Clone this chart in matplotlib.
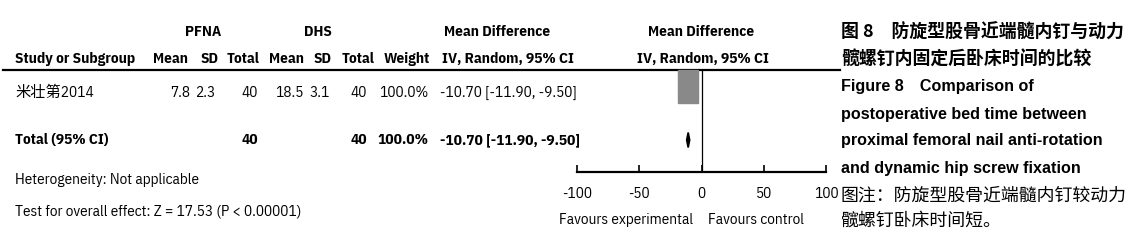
import matplotlib
matplotlib.use("Agg")
import matplotlib.pyplot as plt
from matplotlib import font_manager
from matplotlib.patches import Rectangle, Polygon


def pick(names, alt):
    for name in names:
        try:
            font_manager.findfont(name, fallback_to_default=False)
            return name
        except Exception:
            pass
    return alt


NARROW = pick(["Liberation Sans Narrow", "IBM Plex Sans Condensed", "Archivo Narrow"], "Liberation Sans")
LAT = [NARROW, "Noto Sans CJK SC"]
CJK = ["Noto Sans CJK SC", "DejaVu Sans"]
EN = ["Liberation Sans", "DejaVu Sans"]

# data
group_names = ["PFNA", "DHS"]
study_name = "米壮第2014"
pfna = [7.8, 2.3, 40]
dhs = [18.5, 3.1, 40]
weight = "100.0%"
md = -10.70
ci = (-11.90, -9.50)
total_n = [40, 40]
xticks = [-100, -50, 0, 50, 100]
heterogeneity = "Heterogeneity: Not applicable"
overall = "Test for overall effect: Z = 17.53 (P < 0.00001)"
fav_left = "Favours experimental"
fav_right = "Favours control"
caption_bold = ["图 8\u3000防旋型股骨近端髓内钉与动力", "髋螺钉内固定后卧床时间的比较"]
caption_en = ["Figure 8\u2003Comparison of", "postoperative bed time between",
              "proximal femoral nail anti-rotation", "and dynamic hip screw fixation"]
caption_note = ["图注：防旋型股骨近端髓内钉较动力", "髋螺钉卧床时间短。"]

W, H = 1140, 244
fig = plt.figure(figsize=(W / 100, H / 100), dpi=100)
ax = fig.add_axes([0, 0, 1, 1])
ax.set_xlim(0, W)
ax.set_ylim(H, 0)
ax.axis("off")

fs = 11.0
def t(x, y, s, ha="left", bold=False, **kw):
    ax.text(x, y, s, ha=ha, va="center", fontsize=kw.pop("size", fs),
            family=kw.pop("family", LAT), fontweight="bold" if bold else "normal", **kw)

# headers
t(203, 32, group_names[0], "center", True)
t(318, 32, group_names[1], "center", True)
t(497, 32, "Mean Difference", "center", True)
t(701, 32, "Mean Difference", "center", True)
y2 = 59
t(15, y2, "Study or Subgroup", bold=True)
for x, s in [(170, "Mean"), (210, "SD"), (243, "Total"), (286, "Mean"),
             (323, "SD"), (358, "Total"), (407, "Weight")]:
    t(x, y2, s, "center", True)
t(508, y2, "IV, Random, 95% CI", "center", True)
t(703, y2, "IV, Random, 95% CI", "center", True)
ax.plot([3, 840], [70, 70], color="black", lw=1.6)

# study row
yr = 93
t(15, yr, study_name)
for x, v in zip([190, 215, 258], pfna):
    t(x, yr, str(v), "right")
for x, v in zip([303, 330, 367], dhs):
    t(x, yr, str(v), "right")
t(428, yr, weight, "right")
t(440, yr, f"{md:.2f} [{ci[0]:.2f}, {ci[1]:.2f}]")

# total row
yt = 140
t(15, yt, "Total (95% CI)", bold=True)
t(258, yt, str(total_n[0]), "right", True)
t(367, yt, str(total_n[1]), "right", True)
t(428, yt, weight, "right", True)
t(440, yt, f"{md:.2f} [{ci[0]:.2f}, {ci[1]:.2f}]", bold=True)
t(15, 180, heterogeneity)
t(15, 212, overall)

# forest plot axis
fx0, fx1 = 577, 826
fa = fig.add_axes([fx0 / W, (H - 172) / H, (fx1 - fx0) / W, (172 - 70) / H])
fa.set_xlim(xticks[0], xticks[-1])
fa.set_ylim(172, 70)
fa.patch.set_alpha(0)
for s in ["top", "left", "right"]:
    fa.spines[s].set_visible(False)
fa.spines["bottom"].set_linewidth(1.6)
fa.set_yticks([])
fa.set_xticks(xticks)
fa.set_xticklabels([str(v) for v in xticks], family=LAT, fontsize=fs)
fa.tick_params(axis="x", direction="in", length=5, width=1.2, pad=11)
fa.axvline(0, color="black", lw=0.9)
fa.plot(ci, [86.5, 86.5], color="black", lw=1)
fa.add_patch(Rectangle((md - 8, 70), 16, 33, color="#898989", zorder=3, clip_on=False))
fa.add_patch(Polygon([(ci[0], yt), (md, yt - 7.5), (ci[1], yt), (md, yt + 7.5)],
                     closed=True, color="black", lw=1.2, zorder=3))
fa.text(-7, 220, fav_left, ha="right", va="center", fontsize=fs, family=LAT,
        transform=fa.transData, clip_on=False)
fa.text(5.5, 220, fav_right, ha="left", va="center", fontsize=fs, family=LAT,
        transform=fa.transData, clip_on=False)

# caption
cx = 841
for i, s in enumerate(caption_bold):
    t(cx, 33 + 27 * i, s, size=12.9, bold=True, family=CJK)
for i, s in enumerate(caption_en):
    t(cx, 87 + 27 * i, s, size=11.6, bold=True, family=EN)
for i, s in enumerate(caption_note):
    t(cx, 196 + 25 * i, s, size=12.9, family=CJK)

fig.savefig("out.png", dpi=100)
